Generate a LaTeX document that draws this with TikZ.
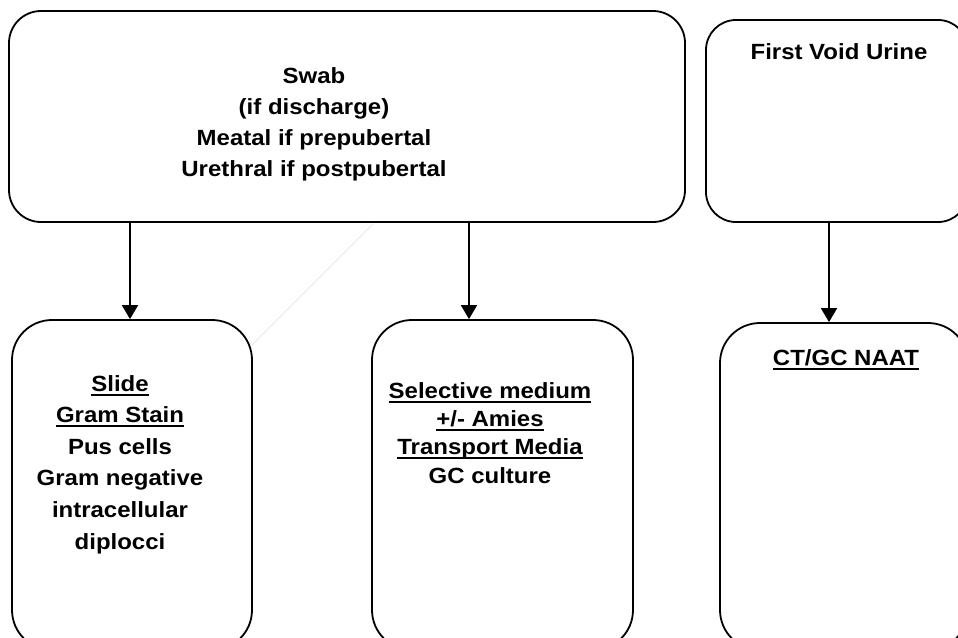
\documentclass[tikz,border=0pt]{standalone}
\usepackage{fontspec}
\setmainfont{Liberation Sans}
\usepackage{graphicx}
\usetikzlibrary{arrows.meta}
\newcommand\ulx[1]{\setbox0\hbox{#1}\rlap{\rule[-4.5pt]{\wd0}{2pt}}\box0}
\newcommand\txtblock[4]{\scalebox{#1}[1]{\fontsize{#2}{#3}\selectfont\bfseries\begin{tabular}[t]{@{}c@{}}#4\end{tabular}}}
\begin{document}
\begin{tikzpicture}[x=1pt,y=-1pt,
  box/.style={draw=black, line width=1.8pt, inner sep=0pt},
  lbl/.style={anchor=base, inner sep=0pt},
  arr/.style={-{Triangle[length=14pt,width=16pt]}, line width=1.8pt},
  faint/.style={draw=gray!18, line width=1pt}]
\useasboundingbox (0,0) rectangle (958,637);
\clip (0,0) rectangle (958,637);
\fill[white] (0,0) rectangle (958,637);
% boxes
\node[box, rounded corners=32pt, minimum width=676pt, minimum height=211pt] (swab) at (347,116.5) {};
\node[box, rounded corners=30pt, minimum width=262pt, minimum height=202pt] (urine) at (837,121) {};
\node[box, rounded corners=40pt, minimum width=240pt, minimum height=330pt] (slide) at (132,485) {};
\node[box, rounded corners=40pt, minimum width=261pt, minimum height=330pt] (sel) at (502.5,485) {};
\node[box, rounded corners=40pt, minimum width=248pt, minimum height=327pt] (naat) at (844,486.5) {};
% texts
\node[lbl] (swabt) at (314,83) {\txtblock{1.09}{22}{31.3}{Swab\\(if discharge)\\Meatal if prepubertal\\Urethral if postpubertal}};
\node[lbl] (urinet) at (839,59) {\txtblock{1.09}{22}{30}{First Void Urine}};
\node[lbl] (slidet) at (120,391) {\txtblock{1.09}{22}{31.6}{\ulx{Slide}\\\ulx{Gram Stain}\\Pus cells\\Gram negative\\intracellular\\diplocci}};
\node[lbl] (selt) at (490,398) {\txtblock{1.09}{22}{28.4}{\ulx{Selective medium}\\\ulx{+/- Amies}\\\ulx{Transport Media}\\GC culture}};
\node[lbl] (naatt) at (846,365) {\txtblock{1.09}{22}{30}{\ulx{CT/GC NAAT}}};
% faint stray line
\draw[faint] (252,345) -- (373,224);
% arrows
\coordinate (a1) at (130,0);
\coordinate (a2) at (469,0);
\coordinate (a3) at (829,0);
\draw[arr] (swab.south -| a1) -- (slide.north -| a1);
\draw[arr] (swab.south -| a2) -- (sel.north -| a2);
\draw[arr] (urine.south -| a3) -- (naat.north -| a3);
\end{tikzpicture}
\end{document}
